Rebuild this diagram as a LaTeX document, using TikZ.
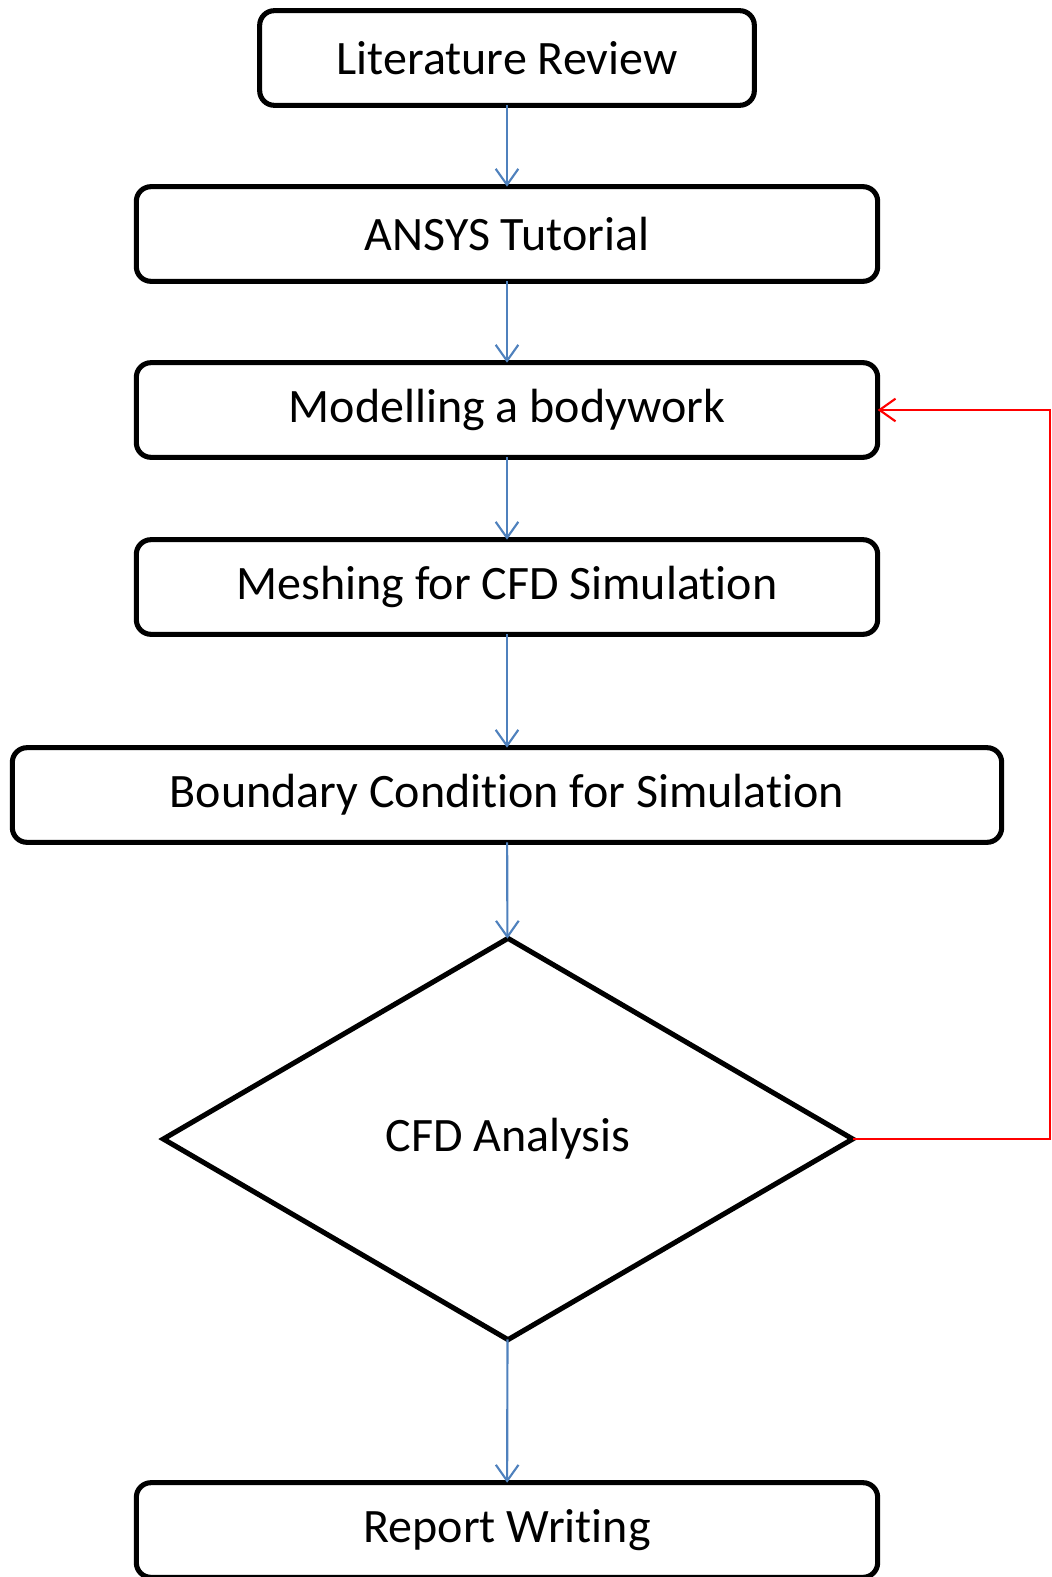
\documentclass[tikz,border=0pt]{standalone}
\usepackage{fontspec}
\setmainfont[Ligatures=NoCommon]{Carlito}
\usetikzlibrary{shapes.geometric,arrows.meta}
\definecolor{arrowblue}{RGB}{79,129,189}
\begin{document}
\begin{tikzpicture}[x=0.75pt, y=-0.75pt,
  every node/.style={font=\fontsize{36}{40}\selectfont},
  stepbox/.style={draw, line width=3.8pt, rounded corners=11pt, minimum height=71pt, outer sep=0pt},
  flow/.style={draw=arrowblue, line width=1.6pt, -{Straight Barb[length=12pt, width=17pt]}},
  back/.style={draw=red, line width=1.6pt, -{Straight Barb[length=12pt, width=17pt]}}]
  \useasboundingbox (0,0) rectangle (1052,1577);
  \node[stepbox, minimum width=371pt] (lit) at (507,58) {Literature Review};
  \node[stepbox, minimum width=556pt] (ansys) at (507,234) {ANSYS Tutorial};
  \node[stepbox, minimum width=556pt] (model) at (507,410) {Modelling a bodywork};
  \node[stepbox, minimum width=556pt] (mesh) at (507,587) {Meshing for CFD Simulation};
  \node[stepbox, minimum width=742pt] (bc) at (507,795) {Boundary Condition for Simulation};
  \node[draw, diamond, line width=3.8pt, minimum width=517pt, minimum height=301pt, outer sep=0pt] (cfd) at (508,1139) {CFD Analysis};
  \node[stepbox, minimum width=556pt] (report) at (507,1530) {Report Writing};
  \draw[flow] (lit) -- (ansys);
  \draw[flow] (ansys) -- (model);
  \draw[flow] (model) -- (mesh);
  \draw[flow] (mesh) -- (bc);
  \draw[flow] (bc) -- (cfd);
  \draw[flow] (cfd) -- (report);
  \coordinate (turn) at (1050,1139);
  \draw[back] (cfd.east) -- (turn) |- (model.east);
\end{tikzpicture}
\end{document}
